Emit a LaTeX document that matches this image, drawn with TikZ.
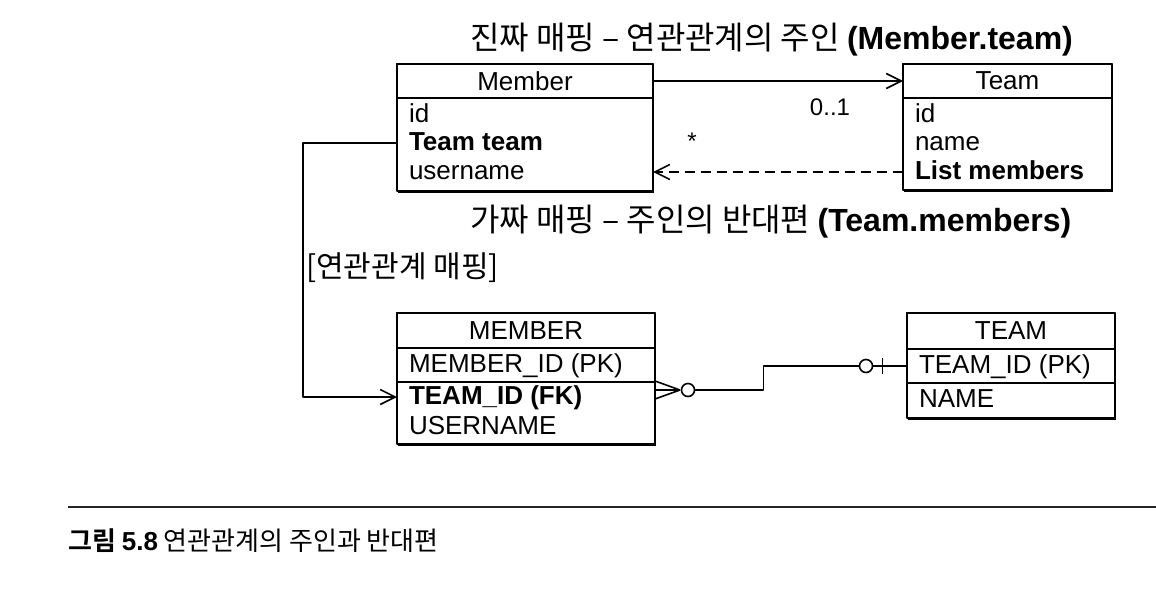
\documentclass[tikz,border=0pt]{standalone}
\usepackage{fontspec}
\setmainfont{Liberation Sans}
\newfontfamily\kr{Noto Sans CJK KR}[BoldFont={Noto Sans CJK KR Bold}]
\usetikzlibrary{arrows.meta,shadows}

\tikzset{
  box/.style={draw, line width=1.8pt, fill=white, anchor=north west, inner sep=0pt, outer sep=0pt,
    drop shadow={shadow xshift=1.2pt, shadow yshift=-2pt, opacity=1, fill=black}},
  cell/.style={draw, line width=1.4pt, anchor=north west, inner sep=0pt, outer sep=0pt,
    font=\fontsize{26}{28}\selectfont},
  row/.style={anchor=west, inner xsep=12pt, inner ysep=0pt, outer sep=0pt,
    text height=19pt, text depth=5pt, font=\fontsize{26}{28}\selectfont},
  link/.style={line width=1.6pt},
  tip/.style={-{Straight Barb[length=15pt,width=15pt]}},
  ring/.style={circle, draw, line width=1.6pt, fill=white, minimum size=13pt, inner sep=0pt},
  caption/.style={anchor=west, inner sep=0pt, font=\kr\fontsize{32}{34}\selectfont},
}

\begin{document}
\begin{tikzpicture}[x=1pt, y=-1pt, line join=round]
  \useasboundingbox (0,0) rectangle (1156,608);

  % Member (class)
  \node[box, minimum width=256pt, minimum height=127pt] (memberBox) at (397,64) {};
  \node[cell, minimum width=256pt, minimum height=34pt] (memberHead) at (397,64) {Member};
  \node[row] (memberId) at (397,115) {id};
  \node[row] (memberTeam) at (397,143) {\textbf{Team team}};
  \node[row] (memberName) at (397,172) {username};

  % Team (class)
  \node[box, minimum width=209pt, minimum height=126pt] (teamBox) at (903,64) {};
  \node[cell, minimum width=209pt, minimum height=34pt] (teamHead) at (903,64) {Team};
  \node[row] (teamId) at (903,115) {id};
  \node[row] (teamName) at (903,143) {name};
  \node[row] (teamList) at (903,172) {\textbf{List members}};

  % MEMBER (table)
  \node[box, minimum width=258pt, minimum height=131pt] (tMemberBox) at (397,313) {};
  \node[cell, minimum width=258pt, minimum height=35pt] (tMemberHead) at (397,313) {MEMBER};
  \node[cell, minimum width=258pt, minimum height=34pt] (tMemberPkCell) at (397,348) {};
  \node[row] (tMemberPk) at (397,365) {MEMBER\_ID (PK)};
  \node[row] (tMemberFk) at (397,397) {\textbf{TEAM\_ID (FK)}};
  \node[row] (tMemberName) at (397,427) {USERNAME};

  % TEAM (table)
  \node[box, minimum width=208pt, minimum height=105pt] (tTeamBox) at (907,313) {};
  \node[cell, minimum width=208pt, minimum height=36pt] (tTeamHead) at (907,313) {TEAM};
  \node[cell, minimum width=208pt, minimum height=34pt] (tTeamPkCell) at (907,349) {};
  \node[row] (tTeamPk) at (907,366) {TEAM\_ID (PK)};
  \node[row] (tTeamName) at (907,400) {NAME};

  % labels
  \node[caption] (ownerLabel) at (470,40) {진짜 매핑 – 연관관계의 주인 {\rmfamily\bfseries (Member.team)}};
  \node[caption] (inverseLabel) at (470,222) {가짜 매핑 – 주인의 반대편 {\rmfamily\bfseries (Team.members)}};
  \node[caption, font=\kr\fontsize{30}{32}\selectfont] (mapLabel) at (306,268) {[연관관계 매핑]};
  \node[font=\fontsize{24}{26}\selectfont] (oneLabel) at (830,107) {0..1};
  \node[font=\fontsize{24}{26}\selectfont] (manyLabel) at (692,141) {*};

  % object references
  \draw[link, tip] (memberHead.east) -- (teamHead.west);
  \draw[link, tip, dash pattern=on 10pt off 6pt] (teamList.west) -- (memberName.west -| memberBox.east);
  \draw[link, tip] (memberTeam.west) -- ++(-94,0) |- (tMemberFk.west);

  % foreign key
  \coordinate (crowTip) at (680,390);
  \draw[link] (crowTip) -- ++(-25,-9) (crowTip) -- ++(-25,0) (crowTip) -- ++(-25,9);
  \node[ring] (crowRing) at (688,390) {};
  \node[ring] (oneRing) at (866,366) {};
  \draw[link] (crowRing.east) -- ++(68,0) |- (oneRing.west);
  \draw[link] (oneRing.east) -- (tTeamPk.west);
  \draw[link] ([xshift=9pt]oneRing.east) ++(0,-8) -- ++(0,16);

  % caption
  \draw[line width=1.4pt, black!85] (68,507) -- (1156,507);
  \node[anchor=west, inner sep=0pt, font=\kr\fontsize{26}{28}\selectfont] (figCaption) at (68,541)
    {\textbf{그림 {\rmfamily 5.8}} 연관관계의 주인과 반대편};
\end{tikzpicture}
\end{document}
